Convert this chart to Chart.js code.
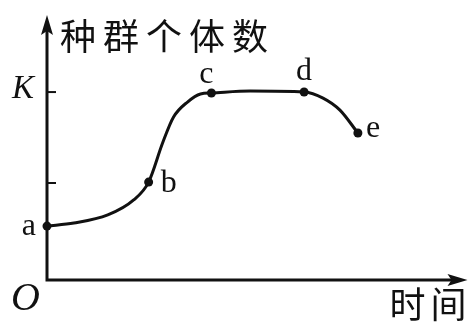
<!DOCTYPE html>
<html>
<head>
<meta charset="utf-8">
<script src="https://cdn.jsdelivr.net/npm/chart.js@4"></script>
<style>
  html, body { margin: 0; padding: 0; background: #fff; }
  #wrap { width: 472px; height: 327px; }
</style>
</head>
<body>
<div id="wrap"><canvas id="growth"></canvas></div>
<script>
// curve (time units, K = 100)
const times  = [0, 2.7, 6.1, 8.7, 10.2, 11.6, 12.7, 14.1, 15.4, 16.5, 20.4, 25.8, 27.7, 29.4, 31.2];
const counts = [28.7, 30.3, 34.6, 42.6, 52.1, 72.9, 86.7, 94.7, 99.0, 99.5, 100.5, 100, 96.8, 90.4, 78.2];
const pointNames = ["a", "", "", "", "b", "", "", "", "", "c", "", "d", "", "", "e"];
const yTicks = [51.6, 100];
const yTickLabels = ["", "K"];
const yTitle = "种群个体数";
const xTitle = "时间";
const originLabel = "O";

// label placement next to each named point: dx, dy, align
const labelPos = {
  a: [-11, 9, "right"],
  b: [12, 10, "left"],
  c: [-5, -10, "center"],
  d: [0, -12, "center"],
  e: [8, 4, "left"]
};

const serif = "'Liberation Serif', 'DejaVu Serif', serif";
const cjk = "'Noto Sans CJK SC', sans-serif";

const axesPlugin = {
  id: "axes",
  beforeDatasetsDraw(chart) {
    const { ctx, scales: { x, y } } = chart;
    const x0 = x.getPixelForValue(0), y0 = y.getPixelForValue(0);
    const xEnd = x.getPixelForValue(x.max), yEnd = y.getPixelForValue(y.max);
    ctx.save();
    ctx.strokeStyle = "#111";
    ctx.fillStyle = "#111";
    ctx.lineWidth = 3;
    ctx.beginPath();
    ctx.moveTo(x0, yEnd + 12);
    ctx.lineTo(x0, y0);
    ctx.lineTo(xEnd - 12, y0);
    ctx.stroke();
    // arrow heads
    ctx.beginPath();
    ctx.moveTo(x0, yEnd);
    ctx.lineTo(x0 - 6, yEnd + 20);
    ctx.lineTo(x0, yEnd + 16);
    ctx.lineTo(x0 + 6, yEnd + 20);
    ctx.closePath();
    ctx.fill();
    ctx.beginPath();
    ctx.moveTo(xEnd, y0);
    ctx.lineTo(xEnd - 20, y0 - 6);
    ctx.lineTo(xEnd - 16, y0);
    ctx.lineTo(xEnd - 20, y0 + 6);
    ctx.closePath();
    ctx.fill();
    // ticks
    ctx.lineWidth = 2;
    yTicks.forEach((v, i) => {
      const py = y.getPixelForValue(v);
      ctx.beginPath();
      ctx.moveTo(x0, py);
      ctx.lineTo(x0 + 9, py);
      ctx.stroke();
      if (yTickLabels[i]) {
        ctx.font = "italic 33px " + serif;
        ctx.textAlign = "right";
        ctx.textBaseline = "alphabetic";
        ctx.fillText(yTickLabels[i], x0 - 13, py + 6);
      }
    });
    // titles
    ctx.font = "italic 40px " + serif;
    ctx.textAlign = "left";
    ctx.fillText(originLabel, x0 - 36, y0 + 30);
    ctx.font = "36px " + cjk;
    ctx.letterSpacing = "7px";
    ctx.textBaseline = "middle";
    ctx.fillText(yTitle, x0 + 13, yEnd + 21);
    ctx.letterSpacing = "5px";
    ctx.textAlign = "right";
    ctx.fillText(xTitle, xEnd + 4, y0 + 24);
    ctx.restore();
  },
  afterDatasetsDraw(chart) {
    const { ctx } = chart;
    const meta = chart.getDatasetMeta(0);
    ctx.save();
    ctx.fillStyle = "#111";
    ctx.font = "32px " + serif;
    ctx.textBaseline = "alphabetic";
    pointNames.forEach((name, i) => {
      if (!name) return;
      const p = meta.data[i];
      const [dx, dy, align] = labelPos[name];
      ctx.textAlign = align;
      ctx.fillText(name, p.x + dx, p.y + dy);
    });
    ctx.restore();
  }
};

new Chart(document.getElementById("growth"), {
  type: "line",
  data: {
    datasets: [{
      data: times.map((t, i) => ({ x: t, y: counts[i] })),
      borderColor: "#111",
      borderWidth: 3,
      cubicInterpolationMode: "monotone",
      pointRadius: pointNames.map(n => n ? 4.5 : 0),
      pointBackgroundColor: "#111",
      pointBorderWidth: 0,
      clip: false
    }]
  },
  options: {
    responsive: true,
    maintainAspectRatio: false,
    animation: false,
    devicePixelRatio: 1,
    layout: { padding: { left: 47, right: 3, top: 15, bottom: 47 } },
    plugins: { legend: { display: false }, tooltip: { enabled: false } },
    scales: {
      x: { type: "linear", min: 0, max: 42.2, display: false },
      y: { type: "linear", min: 0, max: 141, display: false }
    }
  },
  plugins: [axesPlugin]
});
</script>
</body>
</html>
